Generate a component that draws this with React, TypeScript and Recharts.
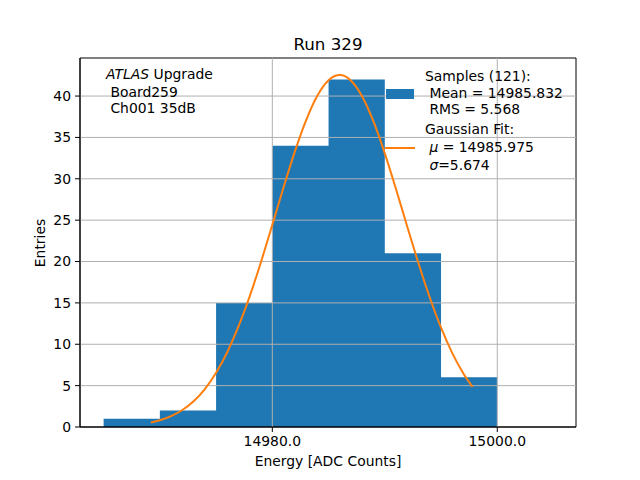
import { ComposedChart, Area, Line, XAxis, YAxis, ReferenceLine, ReferenceArea } from "recharts";

// Histogram bins (left edges) and entries per bin
const binEdges = [14965, 14970, 14975, 14980, 14985, 14990, 14995, 15000];
const binCounts = [1, 2, 15, 34, 42, 21, 6];

// Gaussian fit curve
const fitX = [
  14969.2, 14970, 14971, 14972, 14973, 14974, 14975, 14976, 14977, 14978, 14979, 14980, 14981, 14982, 14983,
  14984, 14985, 14986, 14987, 14988, 14989, 14990, 14991, 14992, 14993, 14994, 14995, 14996, 14997, 14997.8,
];
const fitY = [
  0.54, 0.81, 1.31, 2.05, 3.11, 4.59, 6.55, 9.07, 12.18, 15.84, 19.98, 24.43, 28.97, 33.28, 37.07, 40.04, 41.92,
  42.54, 41.85, 39.92, 36.9, 33.08, 28.74, 24.21, 19.77, 15.65, 12.0, 8.93, 6.44, 4.85,
];

const xTicks = [14980, 15000];
const yTicks = [0, 5, 10, 15, 20, 25, 30, 35, 40];
const xDomain = [14962.9, 15007.0];
const yDomain = [0, 44.6];

const FONT = "'DejaVu Sans', sans-serif";
const GRID = "#b0b0b0";

export default function App() {
  const histData = binEdges.map((e, i) => ({ x: e, y: binCounts[i] ?? 0 }));
  const fitData = fitX.map((x, i) => ({ x, y: fitY[i] }));

  const text = (extra: React.CSSProperties): React.CSSProperties => ({
    position: "absolute",
    fontFamily: FONT,
    fontSize: 13.9,
    color: "#000",
    whiteSpace: "pre",
    lineHeight: "16px",
    ...extra,
  });

  return (
    <div style={{ position: "absolute", left: 0, top: 0, width: 640, height: 480, background: "#fff" }}>
      <ComposedChart width={640} height={480} margin={{ top: 58, right: 64, bottom: 0, left: 0 }}>
        <XAxis
          type='number'
          dataKey='x'
          domain={xDomain}
          ticks={xTicks}
          allowDataOverflow
          height={53}
          tickSize={5}
          tickMargin={4}
          tickFormatter={(v) => v.toFixed(1)}
          stroke='#000'
          tick={{ fill: "#000", fontSize: 13.9, fontFamily: FONT }}
        />
        <YAxis
          type='number'
          dataKey='y'
          domain={yDomain}
          ticks={yTicks}
          allowDataOverflow
          width={80}
          tickSize={5}
          tickMargin={4}
          stroke='#000'
          tick={{ fill: "#000", fontSize: 13.9, fontFamily: FONT }}
        />
        <Area
          data={histData}
          dataKey='y'
          type='stepAfter'
          fill='#1f77b4'
          fillOpacity={1}
          stroke='none'
          isAnimationActive={false}
        />
        {yTicks.slice(1).map((t) => (
          <ReferenceLine key={`gy-${t}`} y={t} stroke={GRID} strokeWidth={1} />
        ))}
        {xTicks.map((t) => (
          <ReferenceLine key={`gx-${t}`} x={t} stroke={GRID} strokeWidth={1} />
        ))}
        <Line
          data={fitData}
          dataKey='y'
          type='monotone'
          stroke='#ff7f0e'
          strokeWidth={2}
          dot={false}
          isAnimationActive={false}
        />
        <ReferenceArea x1={xDomain[0]} x2={xDomain[1]} y1={yDomain[0]} y2={yDomain[1]} fill='none' stroke='#000' strokeWidth={1} />
      </ComposedChart>

      <div style={text({ left: 0, width: 656, top: 34, textAlign: "center", fontSize: 16.7, lineHeight: "20px" })}>Run 329</div>
      <div style={text({ left: 80, width: 496, top: 453, textAlign: "center" })}>Energy [ADC Counts]</div>
      <div style={text({ left: 40, top: 243, transform: "translate(-50%, -50%) rotate(-90deg)" })}>Entries</div>

      <div style={text({ left: 106, top: 66 })}>
        <span style={{ fontStyle: "italic" }}>ATLAS</span> Upgrade
      </div>
      <div style={text({ left: 106, top: 84 })}> Board259</div>
      <div style={text({ left: 106, top: 100 })}> Ch001 35dB</div>

      <div style={{ position: "absolute", left: 386, top: 89, width: 28, height: 10, background: "#1f77b4" }} />
      <div style={{ position: "absolute", left: 385, top: 147, width: 30, height: 2, background: "#ff7f0e" }} />
      <div style={text({ left: 425, top: 68 })}>Samples (121):</div>
      <div style={text({ left: 425, top: 85 })}> Mean = 14985.832</div>
      <div style={text({ left: 425, top: 101 })}> RMS = 5.568</div>
      <div style={text({ left: 425, top: 121 })}>Gaussian Fit:</div>
      <div style={text({ left: 425, top: 139 })}>
        {" "}
        <span style={{ fontStyle: "italic" }}>μ</span> = 14985.975
      </div>
      <div style={text({ left: 425, top: 157 })}>
        {" "}
        <span style={{ fontStyle: "italic" }}>σ</span>=5.674
      </div>
    </div>
  );
}
